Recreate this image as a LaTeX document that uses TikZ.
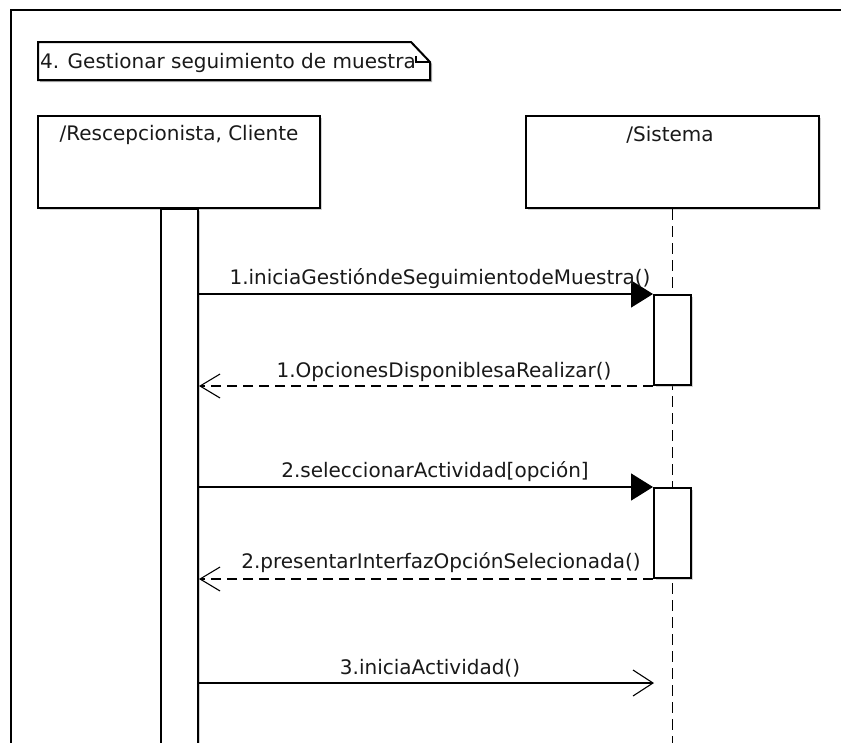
\documentclass[tikz,border=0pt]{standalone}
\usepackage{fontspec}
\setmainfont{DejaVu Sans}
\usetikzlibrary{arrows.meta,shadows}
\begin{document}
\begin{tikzpicture}[x=1pt,y=-1pt,
  every node/.style={font=\fontsize{20}{24}\selectfont, text=black!90, inner sep=0pt},
  shbox/.style={drop shadow={shadow xshift=2pt, shadow yshift=-2pt, opacity=0.35}},
  objbox/.style={draw, line width=2pt, fill=white, minimum width=282pt, minimum height=92pt, shbox},
  actbar/.style={draw, line width=2pt, fill=white, minimum width=37pt, shbox},
  lifeline/.style={line width=1.8pt, dash pattern=on 11pt off 6pt},
  syncmsg/.style={line width=1.6pt, -{Triangle[length=22pt,width=27pt]}},
  replymsg/.style={line width=1.6pt, dash pattern=on 10pt off 6pt,
    -{Straight Barb[length=20pt,width=24pt,line width=1.1pt]}},
  asyncmsg/.style={line width=1.6pt, -{Straight Barb[length=20pt,width=26pt,line width=1.1pt]}},
  msglabel/.style={anchor=base},
]
\useasboundingbox (0,0) rectangle (841,742);
\fill[white] (0,0) rectangle (841,742);
\clip (0,0) rectangle (841,742);

% diagram frame
\draw[line width=2.2pt] (11,760) -- (11,10) -- (860,10);

% title note with folded corner
\fill[black, opacity=0.3] (40,44) -- (413,44) -- (432,64) -- (432,82) -- (40,82) -- cycle;
\draw[line width=2pt, fill=white] (38,42) -- (411,42) -- (430,62) -- (430,80) -- (38,80) -- cycle;
\draw[line width=1.4pt] (416,56) -- (416,62) -- (430,62);
\node[anchor=base west] (notetext) at (40,68) {4. Gestionar seguimiento de muestra};

% participants
\node[objbox] (actor) at (179,162) {};
\node[msglabel] (actorname) at (179,140) {/Rescepcionista, Cliente};
\node[objbox, minimum width=293pt] (sys) at (672.5,162) {};
\node[msglabel] (sysname) at (670,141) {/Sistema};

% lifelines and activations
\coordinate (sysend) at (672.5,760);
\draw[lifeline] (sys.south) -- (sysend);
\node[actbar, minimum height=560pt, anchor=north] (bar) at (179.5,208) {};
\node[actbar, minimum height=90pt, anchor=north] (act1) at (672.5,294) {};
\node[actbar, minimum height=90pt, anchor=north] (act2) at (672.5,487) {};

% messages
\draw[syncmsg] (act1.north west -| bar.east) -- (act1.north west);
\node[msglabel] (l1) at (440,284) {1.iniciaGestióndeSeguimientodeMuestra()};
\draw[replymsg] (act1.south west) -- (act1.south west -| bar.east);
\node[msglabel] (l2) at (444,377) {1.OpcionesDisponiblesaRealizar()};
\draw[syncmsg] (act2.north west -| bar.east) -- (act2.north west);
\node[msglabel] (l3) at (435,477) {2.seleccionarActividad[opción]};
\draw[replymsg] (act2.south west) -- (act2.south west -| bar.east);
\node[msglabel] (l4) at (441,568) {2.presentarInterfazOpciónSelecionada()};
\coordinate (m3end) at (654,683);
\draw[asyncmsg] (m3end -| bar.east) -- (m3end);
\node[msglabel] (l5) at (430,674) {3.iniciaActividad()};
\end{tikzpicture}
\end{document}
